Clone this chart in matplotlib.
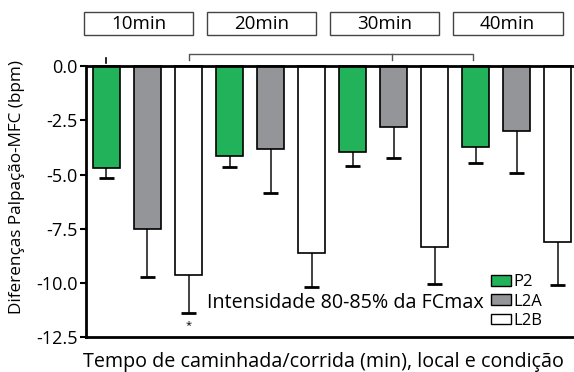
import matplotlib
matplotlib.use("Agg")
from matplotlib import pyplot as plt
from matplotlib.patches import Rectangle
import matplotlib.transforms as mtransforms
import numpy as np

plt.rcParams['font.family'] = ['Open Sans', 'DejaVu Sans']
plt.rcParams['axes.unicode_minus'] = False

# data
times = ['10min', '20min', '30min', '40min']
series = ['P2', 'L2A', 'L2B']
p2 = [-4.68, -4.14, -3.94, -3.73]
l2a = [-7.50, -3.80, -2.79, -2.99]
l2b = [-9.66, -8.63, -8.36, -8.10]
p2_err = [0.46, 0.49, 0.66, 0.76]
l2a_err = [2.24, 2.07, 1.47, 1.92]
l2b_err = [1.71, 1.57, 1.69, 2.02]
colors = ['#22b35a', '#939598', '#ffffff']
yticks = [0.0, -2.5, -5.0, -7.5, -10.0, -12.5]

fig = plt.figure(figsize=(5.74, 3.72), dpi=100)
ax = fig.add_axes([0.1498, 0.094, 0.8502, 0.731])

means = np.array([p2, l2a, l2b]).T.flatten()
errs = np.array([p2_err, l2a_err, l2b_err]).T.flatten()
x = np.arange(len(means))
cols = [colors[i % 3] for i in range(len(means))]

ax.bar(x, means, width=0.66, color=cols, edgecolor='black', linewidth=1.2, zorder=3)
lows = means - errs
ax.vlines(x, means, lows, color='#333333', linewidth=1.3, zorder=2)
ax.hlines(lows, x - 0.18, x + 0.18, color='black', linewidth=2, zorder=2)

ax.axhline(0, color='black', linewidth=2, zorder=4)
ax.set_xlim(-0.5, 11.4)
ax.set_ylim(-12.5, 0.05)
ax.set_yticks(yticks)
ax.set_yticklabels(['%.1f' % v for v in yticks], fontsize=13)
ax.set_xticks([])
ax.tick_params(axis='y', length=4, width=1.5, pad=2)
for s in ['top', 'right']:
    ax.spines[s].set_visible(False)
ax.spines['left'].set_linewidth(2)
ax.spines['bottom'].set_linewidth(2)
ax.spines['left'].set_bounds(-12.5, 0)

ax.set_ylabel('Diferenças Palpação-MFC (bpm)', fontsize=12.3)
ax.yaxis.set_label_coords(-0.125, 0.55)
fig.text(323 / 574, 1 - 362 / 372, 'Tempo de caminhada/corrida (min), local e condição',
         ha='center', va='center', fontsize=14.2)

# time boxes above the plot
trans = mtransforms.blended_transform_factory(ax.transData, ax.transAxes)
for i, t in enumerate(times):
    xc = 3 * i + 1 - 0.22
    ax.add_patch(Rectangle((xc - 1.34, 1.110), 2.68, 0.085, transform=trans,
                           facecolor='white', edgecolor='#444444', linewidth=1, clip_on=False))
    ax.text(xc, 1.1525, t, transform=trans, ha='center', va='center', fontsize=13.5)

# significance brackets
ax.plot([0, 0], [0.14, 0.37], color='black', linewidth=1.2, clip_on=False)
ax.plot([2, 2, 8.94, 8.94], [0.28, 0.55, 0.55, 0.28], color='#555555', linewidth=1, clip_on=False)
ax.plot([6.96, 6.96], [0.55, 0.28], color='#555555', linewidth=1, clip_on=False)
ax.text(2, -11.95, '*', ha='center', va='center', fontsize=8)

ax.text(2.45, -10.95, 'Intensidade 80-85% da FCmax', ha='left', va='center', fontsize=14.2)

handles = [Rectangle((0, 0), 1, 1, facecolor=c, edgecolor='black', linewidth=1) for c in colors]
ax.legend(handles, series, loc='lower left', bbox_to_anchor=(0.83, 0.03), frameon=False,
          fontsize=12, handlelength=1.2, handleheight=0.6, handletextpad=0.15,
          labelspacing=0.2, borderpad=0, borderaxespad=0)

fig.savefig('out.png', dpi=100)
